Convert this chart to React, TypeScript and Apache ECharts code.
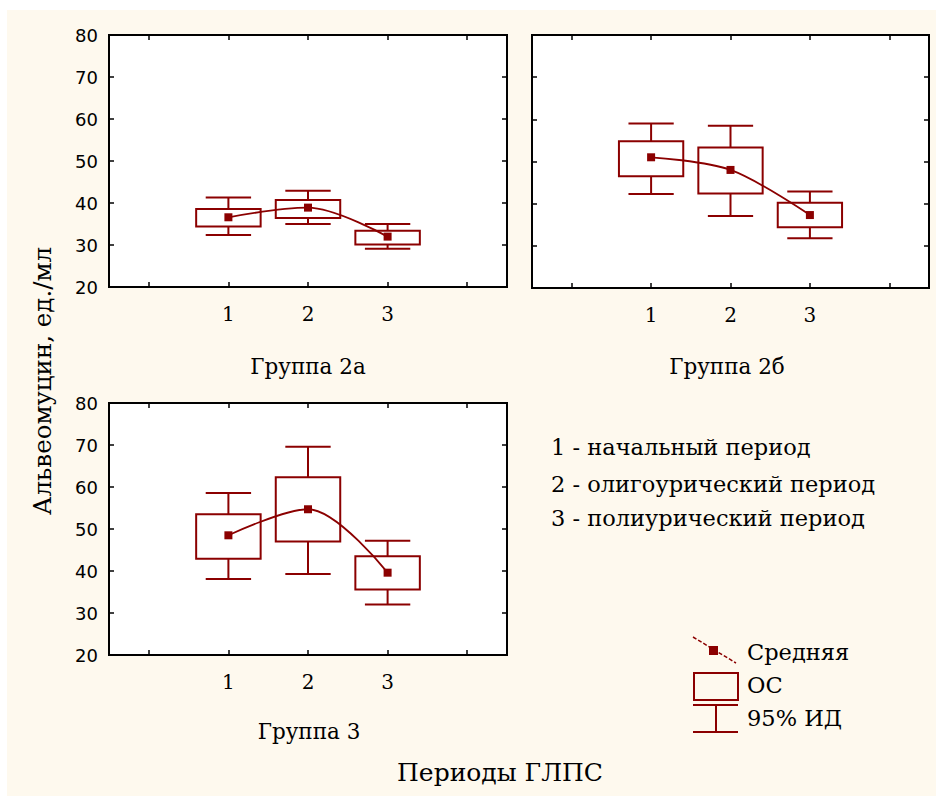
import React, { useEffect, useRef } from "react";
import * as echarts from "echarts";

// ---- data ----
const CATS = ["", "1", "2", "3", ""];
const CAT_IDX = [1, 2, 3];
const PANEL_TITLES = ["Группа 2а", "Группа 2б", "Группа 3"];
const Y_MIN = 20;
const Y_MAX = 80;
const Y_STEP = 10;

// Группа 2а
const MEAN_2A = [36.6, 38.9, 32.0];
const SE_LOW_2A = [34.4, 36.4, 30.1];
const SE_HIGH_2A = [38.6, 40.7, 33.4];
const CI_LOW_2A = [32.4, 35.0, 29.1];
const CI_HIGH_2A = [41.3, 42.9, 35.0];

// Группа 2б
const MEAN_2B = [51.0, 48.0, 37.3];
const SE_LOW_2B = [46.5, 42.4, 34.4];
const SE_HIGH_2B = [54.8, 53.3, 40.2];
const CI_LOW_2B = [42.3, 37.1, 31.8];
const CI_HIGH_2B = [59.0, 58.5, 42.9];

// Группа 3
const MEAN_3 = [48.5, 54.7, 39.6];
const SE_LOW_3 = [42.9, 47.0, 35.6];
const SE_HIGH_3 = [53.5, 62.3, 43.5];
const CI_LOW_3 = [38.1, 39.3, 32.0];
const CI_HIGH_3 = [58.6, 69.6, 47.2];

const PERIOD_NOTES = [
  "1 - начальный период",
  "2 - олигоурический период",
  "3 - полиурический период",
];
const LEGEND_LABELS = ["Средняя", "ОС", "95% ИД"];
const Y_TITLE = "Альвеомуцин, ед./мл";
const X_TITLE = "Периоды ГЛПС";

const PANELS = [
  { mean: MEAN_2A, seL: SE_LOW_2A, seH: SE_HIGH_2A, ciL: CI_LOW_2A, ciH: CI_HIGH_2A, yLabels: true },
  { mean: MEAN_2B, seL: SE_LOW_2B, seH: SE_HIGH_2B, ciL: CI_LOW_2B, ciH: CI_HIGH_2B, yLabels: false },
  { mean: MEAN_3, seL: SE_LOW_3, seH: SE_HIGH_3, ciL: CI_LOW_3, ciH: CI_HIGH_3, yLabels: true },
];

const RED = "#8B0000";
const SERIF = "DejaVu Serif";
const SANS = "DejaVu Sans";

const GRIDS = [
  { left: 109, top: 35, width: 398, height: 252 },
  { left: 532, top: 35, width: 397, height: 253 },
  { left: 109, top: 403, width: 398, height: 252 },
];

export default function App() {
  const ref = useRef<HTMLDivElement>(null);

  useEffect(() => {
    document.body.style.margin = "0";
    if (!ref.current) return;
    const chart = echarts.init(ref.current, null, { renderer: "svg" });

    const xAxis: any[] = [];
    const yAxis: any[] = [];
    const series: any[] = [];

    GRIDS.forEach((_, g) => {
      const p = PANELS[g];
      const tick = { show: true, inside: true, length: 5, alignWithLabel: true, interval: 0, lineStyle: { color: "#000", width: 1.5 } };
      const line = { show: true, lineStyle: { color: "#000", width: 2 } };
      xAxis.push({
        type: "category", gridIndex: g, data: CATS, boundaryGap: true, position: "bottom",
        axisLine: line, axisTick: tick,
        axisLabel: { show: true, interval: 0, margin: 17, color: "#000", fontFamily: SERIF, fontSize: 20 },
        splitLine: { show: false },
      });
      xAxis.push({
        type: "category", gridIndex: g, data: CATS, boundaryGap: true, position: "top",
        axisLine: line, axisTick: tick, axisLabel: { show: false }, splitLine: { show: false },
      });
      const ytick = { show: true, inside: true, length: 5, lineStyle: { color: "#000", width: 1.5 } };
      yAxis.push({
        type: "value", gridIndex: g, min: Y_MIN, max: Y_MAX, interval: Y_STEP, position: "left",
        axisLine: line, axisTick: ytick,
        axisLabel: { show: p.yLabels, margin: 11, color: "#000", fontFamily: SANS, fontSize: 18 },
        splitLine: { show: false },
      });
      yAxis.push({
        type: "value", gridIndex: g, min: Y_MIN, max: Y_MAX, interval: Y_STEP, position: "right",
        axisLine: line, axisTick: ytick, axisLabel: { show: false }, splitLine: { show: false },
      });

      const boxData = CAT_IDX.map((c, i) => [c, p.mean[i], p.seL[i], p.seH[i], p.ciL[i], p.ciH[i]]);
      series.push({
        type: "custom",
        xAxisIndex: g * 2,
        yAxisIndex: g * 2,
        data: boxData,
        encode: { x: 0, y: [2, 3, 4, 5] },
        z: 2,
        renderItem: (params: any, api: any) => {
          const x = api.value(0);
          const seL = api.coord([x, api.value(2)]);
          const seH = api.coord([x, api.value(3)]);
          const ciL = api.coord([x, api.value(4)]);
          const ciH = api.coord([x, api.value(5)]);
          const bw = api.size([1, 0])[0];
          const half = bw * 0.405;
          const cap = bw * 0.285;
          const cx = seH[0];
          const st = { stroke: RED, lineWidth: 2, fill: "none" };
          return {
            type: "group",
            children: [
              { type: "rect", shape: { x: cx - half, y: seH[1], width: half * 2, height: seL[1] - seH[1] }, style: st },
              { type: "line", shape: { x1: cx, y1: ciH[1], x2: cx, y2: seH[1] }, style: st },
              { type: "line", shape: { x1: cx - cap, y1: ciH[1], x2: cx + cap, y2: ciH[1] }, style: st },
              { type: "line", shape: { x1: cx, y1: seL[1], x2: cx, y2: ciL[1] }, style: st },
              { type: "line", shape: { x1: cx - cap, y1: ciL[1], x2: cx + cap, y2: ciL[1] }, style: st },
            ],
          };
        },
      });
      series.push({
        type: "line",
        xAxisIndex: g * 2,
        yAxisIndex: g * 2,
        data: CAT_IDX.map((c, i) => [c, p.mean[i]]),
        smooth: 0.33,
        symbol: "rect",
        symbolSize: 8,
        showSymbol: true,
        z: 3,
        lineStyle: { color: RED, width: 1.8 },
        itemStyle: { color: RED },
      });
    });

    const txt = (x: number, y: number, text: string, size: number, align = "center", extra: any = {}) => ({
      type: "text",
      x,
      y,
      style: { text, fill: "#000", font: `${size}px "${SERIF}"`, textAlign: align, textVerticalAlign: "middle" },
      ...extra,
    });

    const graphic: any[] = [
      txt(308, 366, PANEL_TITLES[0], 21.5),
      txt(727, 366, PANEL_TITLES[1], 21.5),
      txt(309, 731, PANEL_TITLES[2], 21.5),
      txt(500, 772, X_TITLE, 25),
      txt(42, 381, Y_TITLE, 24.5, "center", { rotation: Math.PI / 2 }),
      txt(551, 447, PERIOD_NOTES[0], 22.5, "left"),
      txt(551, 484, PERIOD_NOTES[1], 22.5, "left"),
      txt(551, 518, PERIOD_NOTES[2], 22.5, "left"),
      txt(747, 652, LEGEND_LABELS[0], 22.5, "left"),
      txt(747, 685, LEGEND_LABELS[1], 22.5, "left"),
      txt(747, 718, LEGEND_LABELS[2], 22.5, "left"),
      // legend symbols
      { type: "line", shape: { x1: 693, y1: 637, x2: 736, y2: 663 }, style: { stroke: RED, lineWidth: 1.5, lineDash: [4, 2] } },
      { type: "rect", shape: { x: 709, y: 646, width: 9, height: 9 }, style: { fill: RED } },
      { type: "rect", shape: { x: 694, y: 673, width: 44, height: 27 }, style: { stroke: RED, lineWidth: 2, fill: "none" } },
      { type: "line", shape: { x1: 693, y1: 705, x2: 738, y2: 705 }, style: { stroke: RED, lineWidth: 2 } },
      { type: "line", shape: { x1: 716, y1: 705, x2: 716, y2: 732 }, style: { stroke: RED, lineWidth: 2 } },
      { type: "line", shape: { x1: 693, y1: 732, x2: 738, y2: 732 }, style: { stroke: RED, lineWidth: 2 } },
    ];

    chart.setOption({
      animation: false,
      backgroundColor: "transparent",
      grid: GRIDS.map((g) => ({ ...g, show: true, backgroundColor: "#fff", borderColor: "#000", borderWidth: 2, containLabel: false })),
      xAxis,
      yAxis,
      series,
      graphic,
    });

    return () => chart.dispose();
  }, []);

  return (
    <div style={{ position: "relative", width: 936, height: 796, background: "#fff", overflow: "hidden" }}>
      <div style={{ position: "absolute", left: 7, top: 10, width: 929, height: 786, background: "#FEF9EE" }} />
      <div ref={ref} style={{ position: "absolute", left: 0, top: 0, width: 936, height: 796 }} />
    </div>
  );
}
